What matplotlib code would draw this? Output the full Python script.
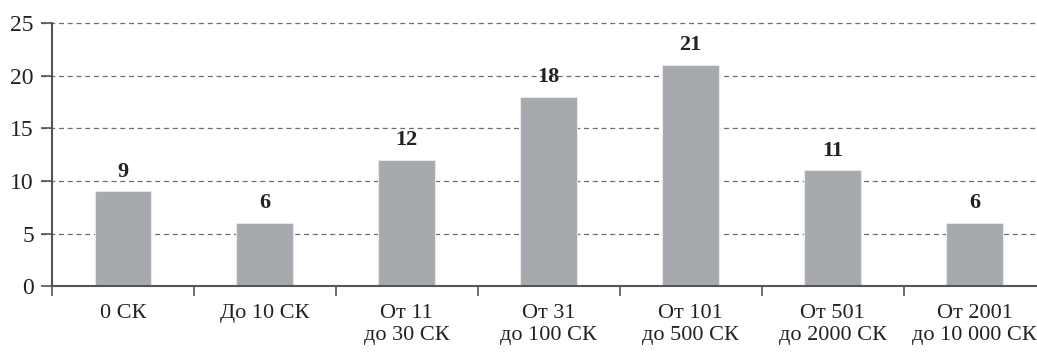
import numpy as np
import matplotlib
matplotlib.use('Agg')
import matplotlib.pyplot as plt
import matplotlib.ticker as tick

# количество по группам
categories = ['0 СК', 'До 10 СК', 'От 11\nдо 30 СК', 'От 31\nдо 100 СК',
              'От 101\nдо 500 СК', 'От 501\nдо 2000 СК', 'От 2001\nдо 10 000 СК']
values = [9, 6, 12, 18, 21, 11, 6]

plt.rcParams['font.family'] = ['Liberation Serif', 'DejaVu Serif']
plt.rcParams['font.size'] = 16

fig = plt.figure(figsize=(10.37, 3.53), dpi=100)
ax = fig.add_axes([0.0501, 0.189, 0.9499, 0.746])

x = np.arange(len(categories))
bars = ax.bar(x, values, width=0.40, color='#a6a9ae', edgecolor='#e8e8ea', lw=0.8, zorder=3)

for xi, v in zip(x, values):
    ax.annotate(str(v), (xi, v), xytext=(0, 7), textcoords='offset points',
                ha='center', va='bottom', fontweight='bold', fontsize=16, color='#222222')

ax.set_xlim(-0.5, 6.44)
ax.set_ylim(0, 25)

# пунктирная сетка, выходит чуть левее оси
for yv in range(5, 26, 5):
    ax.axhline(yv, xmin=-0.0112, xmax=1, color='#6f6f6f', lw=0.9, ls=(0, (4, 3)),
               clip_on=False, zorder=1)

ax.yaxis.set_major_locator(tick.MultipleLocator(5))
ax.tick_params(axis='y', length=8, width=1.2, color='#555555', pad=5, labelsize=17,
               labelcolor='#222222')
ax.set_xticks(x)
ax.set_xticklabels(categories, linespacing=1.2)
ax.tick_params(axis='x', which='major', length=0, pad=13, labelsize=16, labelcolor='#222222')
ax.xaxis.set_minor_locator(tick.FixedLocator(np.arange(-0.5, 6.5, 1)))
ax.tick_params(axis='x', which='minor', length=7.5, width=1.2, color='#555555', direction='out')

for side in ['top', 'right']:
    ax.spines[side].set_visible(False)
for side in ['left', 'bottom']:
    ax.spines[side].set_color('#555555')
    ax.spines[side].set_linewidth(1.5)
ax.spines['bottom'].set_zorder(4)

fig.savefig('out.png', dpi=100)
